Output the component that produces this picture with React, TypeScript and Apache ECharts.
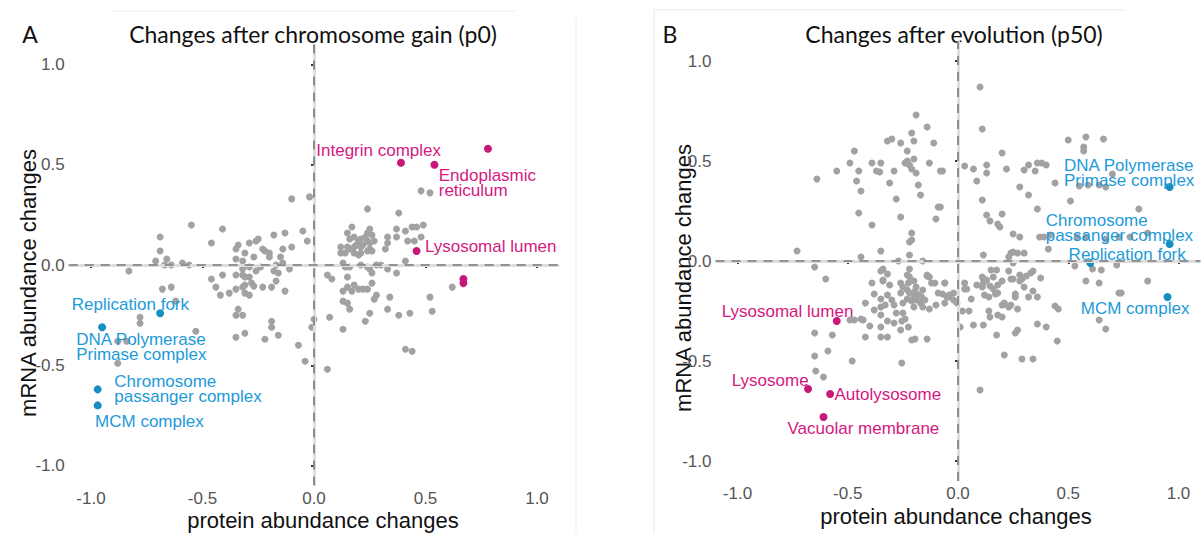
import React, { useEffect, useRef } from "react";
import * as echarts from "echarts";

const xTicks = [-1, -0.5, 0, 0.5, 1];
const yTicks = [-1, -0.5, 0, 0.5, 1];

const titleA = "Changes after chromosome gain (p0)";
const titleB = "Changes after evolution (p50)";
const xName = "protein abundance changes";
const yName = "mRNA abundance changes";

// Panel A – unlabelled proteins complexes (grey)
const greyA: number[][] = [
  [-0.10, 0.33], [-0.02, 0.34], [-0.55, 0.20], [-0.41, 0.18], [-0.69, 0.14], [-0.46, 0.11], [-0.05, 0.17], [-0.03, 0.12],
  [-0.13, 0.16], [-0.18, 0.15], [-0.25, 0.13], [-0.26, 0.12], [-0.29, 0.11], [-0.34, 0.10], [-0.35, 0.08], [-0.69, 0.07],
  [-0.23, 0.08], [-0.22, 0.07], [-0.20, 0.06], [-0.20, 0.04], [-0.15, 0.04], [-0.14, 0.08], [-0.10, 0.09], [-0.31, 0.06],
  [-0.27, 0.04], [-0.32, 0.02], [-0.35, 0.03], [-0.71, 0.02], [-0.66, 0.03], [-0.64, 0.00], [-0.59, 0.01], [-0.56, 0.00],
  [-0.67, 0.00], [-0.83, -0.03], [-0.32, -0.02], [-0.29, -0.01], [-0.26, -0.03], [-0.24, -0.01], [-0.18, -0.03], [-0.17, 0.00],
  [-0.14, 0.01], [-0.11, -0.02], [-0.35, -0.05], [-0.32, -0.05], [-0.31, -0.06], [-0.29, -0.06], [-0.41, -0.05], [-0.46, -0.07],
  [-0.44, -0.11], [-0.42, -0.15], [-0.38, -0.14], [-0.35, -0.12], [-0.32, -0.11], [-0.31, -0.10], [-0.28, -0.09], [-0.27, -0.105],
  [-0.16, -0.04], [-0.17, -0.08], [-0.23, -0.11], [-0.19, -0.11], [-0.13, -0.13], [-0.31, -0.14], [-0.29, -0.15], [-0.68, -0.12],
  [-0.64, -0.11], [-0.34, -0.22], [-0.35, -0.25], [-0.32, -0.25], [-0.78, -0.26], [-0.62, -0.18], [-0.78, -0.29], [-0.19, -0.28],
  [-0.19, -0.31], [-0.53, -0.33], [-0.35, -0.36], [-0.31, -0.34], [-0.22, -0.37], [-0.16, -0.35], [-0.07, -0.40], [0.00, -0.27],
  [-0.01, -0.31], [-0.04, -0.48], [-0.88, -0.38], [-0.84, -0.38], [-0.88, -0.49], [0.06, -0.52],
  [0.48, 0.37], [0.52, 0.36], [0.24, 0.28], [0.38, 0.26], [0.17, 0.19], [0.25, 0.18], [0.26, 0.15], [0.37, 0.18],
  [0.41, 0.17], [0.44, 0.19], [0.46, 0.19], [0.49, 0.20], [0.37, 0.14], [0.33, 0.14], [0.33, 0.11], [0.42, 0.12],
  [0.45, 0.12], [0.48, 0.14], [0.15, 0.16], [0.16, 0.13], [0.18, 0.14], [0.20, 0.12], [0.21, 0.13], [0.23, 0.14],
  [0.24, 0.12], [0.22, 0.10], [0.21, 0.09], [0.19, 0.10], [0.18, 0.09], [0.16, 0.08], [0.15, 0.09], [0.12, 0.09],
  [0.12, 0.06], [0.14, 0.06], [0.18, 0.06], [0.20, 0.05], [0.21, 0.06], [0.24, 0.07], [0.25, 0.08], [0.26, 0.07],
  [0.25, 0.11], [0.27, 0.12], [0.24, 0.16], [0.32, 0.08], [0.13, 0.01], [0.14, -0.01], [0.16, -0.01], [0.21, 0.00],
  [0.24, -0.01], [0.28, 0.00], [0.30, 0.00], [0.33, -0.02], [0.37, -0.04], [0.25, -0.02], [0.26, -0.04], [0.41, 0.02],
  [0.06, -0.05], [0.08, -0.07], [0.15, -0.06], [0.15, -0.11], [0.13, -0.13], [0.18, -0.10], [0.20, -0.12], [0.22, -0.12],
  [0.24, -0.12], [0.26, -0.09], [0.17, -0.13], [0.28, -0.15], [0.27, -0.17], [0.34, -0.16], [0.52, -0.16], [0.62, -0.11],
  [0.13, -0.18], [0.15, -0.19], [0.16, -0.22], [0.25, -0.24], [0.33, -0.22], [0.53, -0.23], [0.38, -0.25], [0.43, -0.24],
  [0.07, -0.26], [0.13, -0.32], [0.23, -0.28], [0.41, -0.42], [0.44, -0.43],
];

// Panel A – highlighted (magenta = up, blue = down)
const pinkA: number[][] = [[0.78, 0.58], [0.39, 0.51], [0.54, 0.50], [0.46, 0.07], [0.67, -0.07], [0.67, -0.09]];
const pinkNamesA = ["", "Integrin complex", "Endoplasmic\nreticulum", "Lysosomal lumen", "", ""];
const blueA: number[][] = [[-0.69, -0.24], [-0.95, -0.31], [-0.97, -0.62], [-0.97, -0.70]];
const blueNamesA = ["Replication fork", "DNA Polymerase\nPrimase complex", "Chromosome\npassanger complex", "MCM complex"];

// Panel B – grey
const greyB: number[][] = [
  [0.10, 0.87], [-0.19, 0.73], [-0.14, 0.67], [-0.21, 0.64], [-0.11, 0.59], [-0.32, 0.60], [-0.30, 0.61], [-0.26, 0.59],
  [-0.20, 0.60], [-0.47, 0.55], [-0.23, 0.55], [-0.49, 0.49], [-0.39, 0.49], [-0.35, 0.49], [-0.24, 0.49], [-0.23, 0.50],
  [-0.22, 0.48], [-0.21, 0.46], [-0.19, 0.44], [-0.20, 0.51], [-0.13, 0.49], [-0.08, 0.45], [-0.45, 0.45], [-0.37, 0.45],
  [-0.355, 0.445], [-0.29, 0.45], [-0.55, 0.45], [-0.64, 0.41], [-0.46, 0.40], [-0.31, 0.39], [-0.18, 0.38], [-0.44, 0.35],
  [-0.17, 0.33], [-0.28, 0.31], [-0.09, 0.27], [-0.45, 0.24], [-0.26, 0.22], [-0.10, 0.21], [-0.39, 0.18], [-0.21, 0.14],
  [-0.21, 0.105], [-0.22, 0.095], [-0.35, 0.05], [-0.22, 0.03], [-0.73, 0.05], [-0.44, 0.02], [-0.27, 0.00], [-0.16, 0.00],
  [-0.65, -0.03], [-0.34, -0.04], [-0.35, -0.05], [-0.32, -0.065], [-0.22, -0.04], [-0.23, -0.07], [-0.14, -0.07], [-0.13, -0.08],
  [-0.60, -0.09],
  [0.11, 0.66], [0.20, 0.54], [0.50, 0.605], [0.58, 0.62], [0.66, 0.61], [0.57, 0.57], [0.57, 0.55], [0.03, 0.475],
  [0.07, 0.46], [0.13, 0.48], [0.13, 0.44], [-0.07, 0.45], [0.22, 0.46], [0.30, 0.455], [0.32, 0.48], [0.35, 0.45],
  [0.36, 0.49], [0.38, 0.49], [0.40, 0.48], [0.085, 0.40], [0.28, 0.37], [0.44, 0.39], [0.55, 0.375], [0.59, 0.38],
  [0.64, 0.38], [0.67, 0.37], [0.70, 0.435], [0.32, 0.33], [0.11, 0.305], [0.51, 0.30], [0.36, 0.26], [0.82, 0.26],
  [0.13, 0.23], [0.145, 0.20], [0.18, 0.185], [0.19, 0.17], [0.20, 0.235], [-0.08, 0.27], [0.25, 0.135], [0.28, 0.12],
  [0.37, 0.12], [0.39, 0.12], [0.42, 0.13], [0.54, 0.12], [0.58, 0.12], [0.67, 0.11], [0.73, 0.12], [0.78, 0.12],
  [0.86, 0.14], [0.41, 0.06], [0.115, 0.03], [0.24, 0.04], [0.25, 0.045], [0.27, 0.04], [0.30, 0.04], [0.23, 0.02],
  [0.25, -0.01], [0.53, -0.025], [0.61, -0.04], [0.65, -0.045], [0.72, -0.02], [0.58, -0.10], [0.64, -0.11], [0.86, -0.10],
  [0.73, -0.16], [0.74, -0.16], [-0.06, -0.11], [0.03, -0.11], [0.03, -0.14], [-0.07, -0.165], [-0.05, -0.18], [-0.04, -0.17],
  [-0.02, -0.16], [0.06, -0.19], [0.085, -0.12], [0.11, -0.08], [0.13, -0.095], [0.145, -0.125], [0.16, -0.08], [0.18, -0.12],
  [0.20, -0.10], [0.31, -0.075], [0.33, -0.06], [0.28, -0.10], [0.30, -0.13], [0.12, -0.17], [0.14, -0.18], [0.17, -0.165],
  [0.18, -0.16], [0.26, -0.165], [0.26, -0.18], [0.32, -0.18], [0.36, -0.18], [0.21, -0.215], [0.23, -0.23], [0.24, -0.22],
  [0.02, -0.25], [0.05, -0.25], [0.14, -0.25], [0.145, -0.28], [0.18, -0.27], [0.20, -0.28], [0.27, -0.24], [0.44, -0.225],
  [0.455, -0.24], [0.07, -0.32], [0.115, -0.32], [0.01, -0.33], [0.27, -0.345], [0.26, -0.36], [0.175, -0.37], [0.36, -0.315],
  [0.40, -0.33], [0.64, -0.295], [0.67, -0.34], [0.45, -0.40], [0.21, -0.47], [0.29, -0.49], [0.34, -0.49], [0.10, -0.645],
  [-0.06, -0.21], [0.04, -0.14], [0.20, -0.22], [0.21, -0.21], [0.34, -0.15], [0.375, -0.085], [0.34, -0.05], [0.28, -0.07],
  [0.29, -0.09], [0.25, -0.09], [0.24, -0.09], [0.23, -0.05], [0.15, -0.045], [0.175, -0.045], [0.115, -0.09], [0.115, -0.11],
  [0.16, -0.14], [0.11, -0.13],
  [-0.34, -0.095], [-0.39, -0.11], [-0.34, -0.10], [-0.31, -0.12], [-0.42, -0.21], [-0.38, -0.165], [-0.35, -0.19], [-0.32, -0.17],
  [-0.30, -0.195], [-0.38, -0.245], [-0.35, -0.23], [-0.33, -0.22], [-0.29, -0.22], [-0.28, -0.26], [-0.25, -0.26], [-0.24, -0.29],
  [-0.255, -0.30], [-0.26, -0.11], [-0.25, -0.13], [-0.23, -0.145], [-0.22, -0.16], [-0.20, -0.18], [-0.19, -0.195], [-0.17, -0.21],
  [-0.23, -0.19], [-0.21, -0.20], [-0.195, -0.15], [-0.18, -0.17], [-0.165, -0.18], [-0.15, -0.195], [-0.20, -0.23], [-0.16, -0.23],
  [-0.13, -0.24], [-0.26, -0.16], [-0.25, -0.21], [-0.22, -0.08], [-0.225, -0.11], [-0.20, -0.10], [-0.19, -0.13], [-0.16, -0.145],
  [-0.14, -0.075], [-0.12, -0.11], [-0.105, -0.11], [-0.09, -0.16], [-0.10, -0.22], [-0.06, -0.11], [-0.04, -0.18], [-0.02, -0.195],
  [-0.005, -0.21], [-0.195, -0.39], [-0.14, -0.39], [-0.26, -0.345], [-0.225, -0.33], [-0.29, -0.31], [-0.32, -0.30], [-0.21, -0.395],
  [-0.42, -0.38], [-0.35, -0.38], [-0.32, -0.38], [-0.40, -0.325], [-0.35, -0.33], [-0.35, -0.27], [-0.49, -0.295], [-0.47, -0.295],
  [-0.44, -0.29], [-0.43, -0.295], [-0.65, -0.36], [-0.57, -0.37], [-0.65, -0.475], [-0.59, -0.45], [-0.48, -0.50], [-0.255, -0.51],
  [-0.645, -0.55], [-0.61, -0.58],
];

const pinkB: number[][] = [[-0.55, -0.30], [-0.68, -0.64], [-0.58, -0.665], [-0.61, -0.78]];
const pinkNamesB = ["Lysosomal lumen", "Lysosome", "Autolysosome", "Vacuolar membrane"];
const blueB: number[][] = [[0.96, 0.37], [0.96, 0.085], [0.60, -0.01], [0.95, -0.18]];
const blueNamesB = ["DNA Polymerase\nPrimase complex", "Chromosome\npassanger complex", "Replication fork", "MCM complex"];

// label placement (pixels, relative to point centre) – styling only
const pinkOffA = [[0, 0], [-84.7, -12.7], [4.3, 17.7], [8.3, -4.7], [0, 0], [0, 0]];
const blueOffA = [[-88.3, -8.3], [-26, 19.7], [16.6, -0.5], [-2.6, 15.7]];
const pinkOffB = [[-115, -9.7], [-76.3, -8.3], [4.3, 0.3], [-36, 11.4]];
const blueOffB = [[-105.7, -14.2], [-124, -16.5], [-21.7, -8.3], [-86.7, 11.3]];

const GREY = "#a2a2a2";
const PINK_DOT = "#c8177a";
const PINK_TXT = "#d4197f";
const BLUE_DOT = "#158fc2";
const BLUE_TXT = "#1d9ad8";
const SANS = "'Liberation Sans', Arial, sans-serif";
const TITLE_FONT = "Lato, 'Open Sans', sans-serif";

function labelled(points: number[][], names: string[], offs: number[][]) {
  return points.map((p, i) => ({
    value: p,
    name: names[i],
    label: { offset: offs[i] },
  }));
}

export default function App() {
  const ref = useRef<HTMLDivElement>(null);

  useEffect(() => {
    if (!ref.current) return;
    const chart = echarts.init(ref.current, undefined, { renderer: "svg" });

    const axisCommon = (ticks: number[]) => ({
      type: "value",
      min: -1.1,
      max: 1.1,
      splitLine: { show: false },
      axisLine: { show: false },
      axisTick: { show: true, customValues: ticks, length: 3, lineStyle: { color: "#333", width: 2 } },
      axisLabel: {
        customValues: ticks,
        formatter: (v: number) => v.toFixed(1),
        color: "#555",
        fontSize: 17,
        fontFamily: SANS,
        margin: 4,
      },
    });
    const axisX = (i: number) => ({ ...axisCommon(xTicks), gridIndex: i });
    const axisY = (i: number) => ({ ...axisCommon(yTicks), gridIndex: i });

    const zeroLines = (i: number) => ({
      type: "scatter",
      xAxisIndex: i,
      yAxisIndex: i,
      data: [],
      z: 1,
      silent: true,
      markLine: {
        silent: true,
        symbol: ["none", "none"],
        label: { show: false },
        animation: false,
        data: [
          { xAxis: 0, lineStyle: { color: "#dedede", width: 3, type: "solid" } },
          { yAxis: 0, lineStyle: { color: "#dedede", width: 3, type: "solid" } },
          { xAxis: 0, lineStyle: { color: "#7a7a7a", width: 1.6, type: [9, 7] } },
          { yAxis: 0, lineStyle: { color: "#7a7a7a", width: 1.6, type: [9, 7] } },
        ],
      },
    });

    const greySeries = (i: number, data: number[][]) => ({
      type: "scatter",
      xAxisIndex: i,
      yAxisIndex: i,
      data,
      z: 2,
      symbolSize: 7,
      itemStyle: { color: GREY, opacity: 1 },
      silent: true,
    });

    const hiSeries = (i: number, data: any[], dot: string, txt: string) => ({
      type: "scatter",
      xAxisIndex: i,
      yAxisIndex: i,
      data,
      z: 3,
      symbolSize: 8,
      itemStyle: { color: dot, opacity: 1 },
      silent: true,
      label: {
        show: true,
        position: "inside",
        align: "left",
        verticalAlign: "middle",
        formatter: "{b}",
        color: txt,
        fontSize: 17,
        lineHeight: 15,
        fontFamily: SANS,
      },
    });

    const text = (t: string, x: number, y: number, font: string, extra: any = {}) => ({
      type: "text",
      x,
      y,
      ...extra,
      style: { text: t, font, fill: "#111", textAlign: "center", textVerticalAlign: "middle" },
    });

    chart.setOption({
      animation: false,
      backgroundColor: "#ffffff",
      grid: [
        { left: 68.7, top: 44.5, width: 490.6, height: 441.1 },
        { left: 715.45, top: 41, width: 485.1, height: 440 },
      ],
      xAxis: [axisX(0), axisX(1)],
      yAxis: [axisY(0), axisY(1)],
      series: [
        zeroLines(0),
        zeroLines(1),
        greySeries(0, greyA),
        greySeries(1, greyB),
        hiSeries(0, labelled(pinkA, pinkNamesA, pinkOffA), PINK_DOT, PINK_TXT),
        hiSeries(0, labelled(blueA, blueNamesA, blueOffA), BLUE_DOT, BLUE_TXT),
        hiSeries(1, labelled(pinkB, pinkNamesB, pinkOffB), PINK_DOT, PINK_TXT),
        hiSeries(1, labelled(blueB, blueNamesB, blueOffB), BLUE_DOT, BLUE_TXT),
      ],
      graphic: [
        { type: "line", shape: { x1: 576, y1: 18, x2: 576, y2: 533 }, style: { stroke: "#ececec", lineWidth: 1 } },
        { type: "line", shape: { x1: 112, y1: 11, x2: 515, y2: 11 }, style: { stroke: "#ececec", lineWidth: 1 } },
        { type: "line", shape: { x1: 654, y1: 10, x2: 654, y2: 533 }, style: { stroke: "#e6e6e6", lineWidth: 1 } },
        { type: "line", shape: { x1: 654, y1: 10, x2: 1125, y2: 10 }, style: { stroke: "#e6e6e6", lineWidth: 1 } },
        text("A", 30, 34, `23px ${TITLE_FONT}`),
        text(titleA, 313, 34, `23px ${TITLE_FONT}`),
        text("B", 670, 34, `23px ${TITLE_FONT}`),
        text(titleB, 954, 34, `23px ${TITLE_FONT}`),
        text(xName, 323, 520, `22px ${SANS}`),
        text(xName, 956, 516, `22px ${SANS}`),
        text(yName, 28, 283, `22px ${SANS}`, { rotation: Math.PI / 2 }),
        text(yName, 683, 278, `22px ${SANS}`, { rotation: Math.PI / 2 }),
      ],
    });

    return () => chart.dispose();
  }, []);

  return <div ref={ref} style={{ position: "fixed", left: 0, top: 0, width: 1201, height: 533 }} />;
}
